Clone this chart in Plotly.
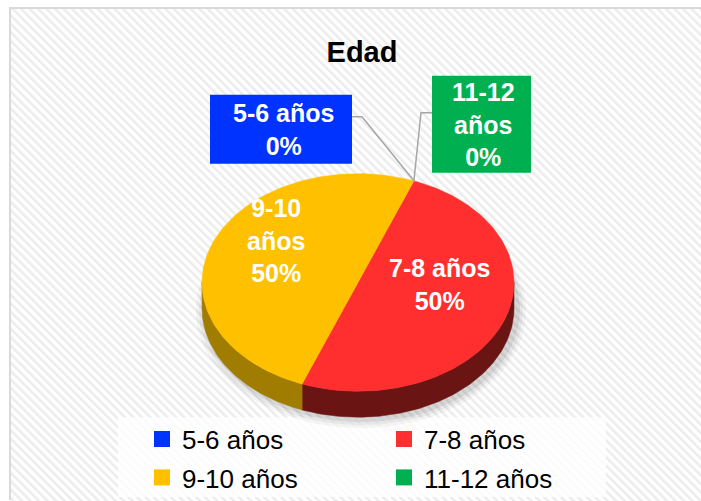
import base64
import numpy as np
import plotly.graph_objects as go

# ---------------- data ----------------
categories = ["5-6 años", "7-8 años", "9-10 años", "11-12 años"]
values = [0, 50, 50, 0]
colors = ["#0033FF", "#FF2F2F", "#FFC000", "#00B050"]
side_colors = ["#001a80", "#6a1414", "#a07c00", "#005828"]
chart_title = "Edad"

# ---------------- geometry (layout) ----------------
W, H = 701, 501
CX, CY, RX, RY, DEPTH = 358, 283, 156, 109, 26
ROT = 21  # first slice angle (deg, clockwise from 12 o'clock)
FONT = "Liberation Sans, Arial, sans-serif"

total = float(sum(values))
pcts = [round(v / total * 100) for v in values]
spans = [360.0 * v / total for v in values]
starts = [ROT + sum(spans[:i]) for i in range(len(values))]
ends = [s + sp for s, sp in zip(starts, spans)]


def arc(a1, a2, dy=0.0, n=120):
    t = np.radians(np.linspace(a1, a2, n))
    return CX + RX * np.sin(t), CY - RY * np.cos(t) + dy


def px(x):  # pixel x -> paper
    return x / W


def py(y):  # pixel y -> paper
    return 1 - y / H


fig = go.Figure()

# soft shadow under the pie
for grow, alpha in [(9, 0.04), (6, 0.05), (3, 0.07)]:
    t = np.radians(np.linspace(0, 360, 200))
    fig.add_trace(go.Scatter(
        x=CX + 3 + (RX + grow) * np.sin(t), y=CY + DEPTH + 2 - (RY + grow) * np.cos(t),
        fill="toself", fillcolor=f"rgba(0,0,0,{alpha})", mode="lines", line=dict(width=0),
        hoverinfo="skip", showlegend=False))

# side walls (front half only)
for i, (a1, a2) in enumerate(zip(starts, ends)):
    if values[i] <= 0:
        continue
    for lo, hi in [(90, 270), (450, 630)]:
        s, e = max(a1, lo), min(a2, hi)
        if e <= s:
            continue
        xt, yt = arc(s, e)
        xb, yb = arc(e, s, DEPTH)
        fig.add_trace(go.Scatter(
            x=np.concatenate([xt, xb, xt[:1]]), y=np.concatenate([yt, yb, yt[:1]]),
            fill="toself", fillcolor=side_colors[i], mode="lines",
            line=dict(width=0.5, color=side_colors[i]), hoverinfo="skip", showlegend=False))

# top faces
for i, (a1, a2) in enumerate(zip(starts, ends)):
    if values[i] <= 0:
        continue
    xa, ya = arc(a1, a2)
    fig.add_trace(go.Scatter(
        x=np.concatenate([[CX], xa, [CX]]), y=np.concatenate([[CY], ya, [CY]]),
        fill="toself", fillcolor=colors[i], mode="lines",
        line=dict(width=0.5, color=colors[i]), name=categories[i],
        hovertemplate=f"{categories[i]}: {pcts[i]}%<extra></extra>", showlegend=False))

# legend entries
for i, name in enumerate(categories):
    fig.add_trace(go.Scatter(
        x=[None], y=[None], mode="markers", name=name,
        marker=dict(symbol="square", size=16, color=colors[i]),
        legend="legend" if i < 2 else "legend2", showlegend=True))

# ---------------- labels ----------------
annotations = []
for i in range(len(values)):
    if values[i] <= 0:
        continue
    mid = np.radians((starts[i] + ends[i]) / 2)
    lx = CX + RX * 0.56 * np.sin(mid)
    ly = CY - RY * 0.56 * np.cos(mid) - 20
    name = categories[i]
    if lx < CX:
        name = name.replace(" ", "<br>")
    annotations.append(dict(
        x=lx, y=ly, xref="x", yref="y", showarrow=False,
        text=f"<b>{name}<br>{pcts[i]}%</b>",
        font=dict(family=FONT, size=25, color="white")))

# callout boxes for the 0% slices
ex, ey = arc(starts[0], starts[0], n=1)
ex, ey = float(ex[0]), float(ey[0])
shapes = []
shapes.append(dict(type="rect", xref="x", yref="y", x0=210, x1=352, y0=95, y1=164,
                   fillcolor=colors[0], line=dict(width=0), layer="above"))
shapes.append(dict(type="path", xref="x", yref="y",
                   path=f"M352,117 L362,117 L{ex:.1f},{ey:.1f}",
                   line=dict(color="#a6a6a6", width=1.5), layer="above"))
annotations.append(dict(x=283, y=129.5, xref="x", yref="y", showarrow=False,
                        text=f"<b>{categories[0]}<br>{pcts[0]}%</b>",
                        font=dict(family=FONT, size=25, color="white")))
shapes.append(dict(type="rect", xref="x", yref="y", x0=432, x1=531, y0=76, y1=173,
                   fillcolor=colors[3], line=dict(width=0), layer="above"))
shapes.append(dict(type="path", xref="x", yref="y",
                   path=f"M432,113 L421,113 L{ex:.1f},{ey:.1f}",
                   line=dict(color="#a6a6a6", width=1.5), layer="above"))
annotations.append(dict(x=483, y=125, xref="x", yref="y", showarrow=False,
                        text="<b>" + categories[3].replace(" ", "<br>") + f"<br>{pcts[3]}%</b>",
                        font=dict(family=FONT, size=25, color="white")))

# chart frame (left/top visible) + legend panel
shapes.append(dict(type="line", xref="paper", yref="paper", x0=px(10), x1=px(10), y0=py(7), y1=0,
                   line=dict(color="#d9d9d9", width=2), layer="below"))
shapes.append(dict(type="line", xref="paper", yref="paper", x0=px(10), x1=1, y0=py(8), y1=py(8),
                   line=dict(color="#d9d9d9", width=2), layer="below"))
shapes.append(dict(type="rect", xref="x", yref="y", x0=118, x1=606, y0=418, y1=498,
                   line=dict(width=0), fillcolor="rgba(255,255,255,0.8)", layer="below"))

# hatched background as an SVG pattern image
bx0, by0 = 11, 9
bw, bh = W + 20 - bx0, H + 20 - by0
svg = (f"<svg xmlns='http://www.w3.org/2000/svg' width='{bw}' height='{bh}' viewBox='0 0 {bw} {bh}'>"
       "<defs><pattern id='p' width='6' height='6' patternUnits='userSpaceOnUse' patternTransform='rotate(-45)'>"
       "<rect width='6' height='6' fill='#ffffff'/><rect width='2.5' height='6' fill='#ececec'/></pattern></defs>"
       f"<rect width='{bw}' height='{bh}' fill='url(#p)'/></svg>")
img_src = "data:image/svg+xml;base64," + base64.b64encode(svg.encode()).decode()

legend_common = dict(orientation="h", xanchor="left", yanchor="middle",
                     entrywidth=197, entrywidthmode="pixels", bgcolor="rgba(0,0,0,0)",
                     font=dict(family=FONT, size=26, color="black"), traceorder="normal")

fig.update_layout(
    width=W, height=H, margin=dict(l=0, r=0, t=0, b=0),
    paper_bgcolor="white", plot_bgcolor="rgba(0,0,0,0)",
    xaxis=dict(range=[0, W], visible=False, fixedrange=True),
    yaxis=dict(range=[H, 0], visible=False, fixedrange=True),
    title=dict(text=f"<b>{chart_title}</b>", x=px(362), xanchor="center",
               y=py(52), yanchor="middle",
               font=dict(family=FONT, size=29, color="black")),
    images=[dict(source=img_src, xref="paper", yref="paper", x=px(bx0), y=py(by0),
                 sizex=bw / W, sizey=bh / H, xanchor="left", yanchor="top",
                 sizing="stretch", layer="below")],
    shapes=shapes,
    annotations=annotations,
    legend=dict(x=px(142), y=py(439), **legend_common),
    legend2=dict(x=px(142), y=py(478), **legend_common),
    showlegend=True,
    hovermode=False,
)

fig.write_html(
    "out.html",
    config={"displayModeBar": False, "responsive": False},
    post_script="document.body.style.margin='0';document.documentElement.style.overflow='hidden';",
)
